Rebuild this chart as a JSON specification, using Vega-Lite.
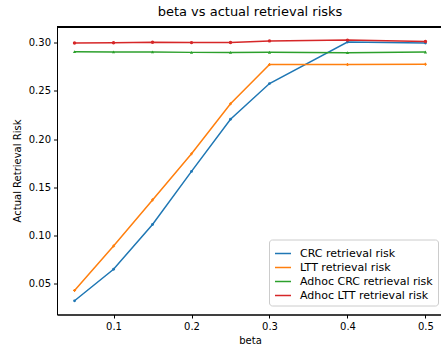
{
  "$schema": "https://vega.github.io/schema/vega-lite/v6.json",
  "autosize": {"type": "none"},
  "padding": {"left": 57, "top": 26.5, "right": 0, "bottom": 38},
  "width": 386,
  "height": 288,
  "view": {"stroke": "#000000", "strokeWidth": 1},
  "title": {"text": "beta vs actual retrieval risks", "fontSize": 13, "fontWeight": "normal", "font": "DejaVu Sans", "color": "#000000", "offset": 7},
  "config": {
    "font": "DejaVu Sans",
    "axis": {"grid": false, "domainColor": "#000000", "tickColor": "#000000", "tickSize": 3.5, "labelFontSize": 10, "labelColor": "#000000", "titleFontSize": 10, "titleFontWeight": "normal", "titleColor": "#000000", "labelPadding": 3},
    "legend": {"strokeWidth": 1}
  },
  "data": {"values": [
    {"beta": 0.05, "series": "CRC retrieval risk", "risk": 0.0325},
    {"beta": 0.10, "series": "CRC retrieval risk", "risk": 0.0652},
    {"beta": 0.15, "series": "CRC retrieval risk", "risk": 0.1115},
    {"beta": 0.20, "series": "CRC retrieval risk", "risk": 0.1665},
    {"beta": 0.25, "series": "CRC retrieval risk", "risk": 0.2205},
    {"beta": 0.30, "series": "CRC retrieval risk", "risk": 0.2575},
    {"beta": 0.40, "series": "CRC retrieval risk", "risk": 0.3005},
    {"beta": 0.50, "series": "CRC retrieval risk", "risk": 0.2995},
    {"beta": 0.05, "series": "LTT retrieval risk", "risk": 0.0432},
    {"beta": 0.10, "series": "LTT retrieval risk", "risk": 0.0892},
    {"beta": 0.15, "series": "LTT retrieval risk", "risk": 0.137},
    {"beta": 0.20, "series": "LTT retrieval risk", "risk": 0.1848},
    {"beta": 0.25, "series": "LTT retrieval risk", "risk": 0.2365},
    {"beta": 0.30, "series": "LTT retrieval risk", "risk": 0.2772},
    {"beta": 0.40, "series": "LTT retrieval risk", "risk": 0.2772},
    {"beta": 0.50, "series": "LTT retrieval risk", "risk": 0.2775},
    {"beta": 0.05, "series": "Adhoc CRC retrieval risk", "risk": 0.2905},
    {"beta": 0.10, "series": "Adhoc CRC retrieval risk", "risk": 0.2903},
    {"beta": 0.15, "series": "Adhoc CRC retrieval risk", "risk": 0.2903},
    {"beta": 0.20, "series": "Adhoc CRC retrieval risk", "risk": 0.2898},
    {"beta": 0.25, "series": "Adhoc CRC retrieval risk", "risk": 0.2898},
    {"beta": 0.30, "series": "Adhoc CRC retrieval risk", "risk": 0.2899},
    {"beta": 0.40, "series": "Adhoc CRC retrieval risk", "risk": 0.2895},
    {"beta": 0.50, "series": "Adhoc CRC retrieval risk", "risk": 0.2902},
    {"beta": 0.05, "series": "Adhoc LTT retrieval risk", "risk": 0.2995},
    {"beta": 0.10, "series": "Adhoc LTT retrieval risk", "risk": 0.2998},
    {"beta": 0.15, "series": "Adhoc LTT retrieval risk", "risk": 0.3003},
    {"beta": 0.20, "series": "Adhoc LTT retrieval risk", "risk": 0.2999},
    {"beta": 0.25, "series": "Adhoc LTT retrieval risk", "risk": 0.3001},
    {"beta": 0.30, "series": "Adhoc LTT retrieval risk", "risk": 0.3017},
    {"beta": 0.40, "series": "Adhoc LTT retrieval risk", "risk": 0.3025},
    {"beta": 0.50, "series": "Adhoc LTT retrieval risk", "risk": 0.3010}
  ]},
  "encoding": {
    "y": {"field": "risk", "type": "quantitative", "scale": {"domain": [0.0183, 0.3166], "nice": false, "zero": false},
          "axis": {"values": [0.05, 0.10, 0.15, 0.20, 0.25, 0.30], "format": ".2f", "title": "Actual Retrieval Risk", "titlePadding": 6}}
  },
  "resolve": {"scale": {"color": "independent"}, "legend": {"color": "independent"}},
  "layer": [
    {"mark": {"type": "rule", "color": "#000000", "strokeWidth": 1},
     "encoding": {"y": {"datum": 0.3163}}},
    {"mark": {"type": "line", "strokeWidth": 1.5, "clip": true},
     "encoding": {
       "x": {"field": "beta", "type": "quantitative", "scale": {"domain": [0.0275, 0.5225], "nice": false, "zero": false},
             "axis": {"values": [0.1, 0.2, 0.3, 0.4, 0.5], "format": ".1f", "title": "beta", "titlePadding": 4}},
       "color": {"field": "series", "type": "nominal",
                 "scale": {"domain": ["CRC retrieval risk", "LTT retrieval risk", "Adhoc CRC retrieval risk", "Adhoc LTT retrieval risk"],
                           "range": ["#1f77b4", "#ff7f0e", "#2ca02c", "#d62728"]},
                 "legend": {"title": null, "orient": "none", "legendX": 212, "legendY": 213, "symbolType": "stroke", "symbolSize": 256, "symbolStrokeWidth": 1.5,
                            "labelFontSize": 11, "labelColor": "#000000", "labelOffset": 8, "rowPadding": 0, "padding": 5,
                            "fillColor": "rgba(255,255,255,0.8)", "strokeColor": "#cccccc", "cornerRadius": 3}}
     }},
    {"mark": {"type": "point", "filled": true, "clip": true, "opacity": 1},
     "encoding": {
       "x": {"field": "beta", "type": "quantitative"},
       "color": {"field": "series", "type": "nominal", "legend": null,
                 "scale": {"domain": ["CRC retrieval risk", "LTT retrieval risk", "Adhoc CRC retrieval risk", "Adhoc LTT retrieval risk"],
                           "range": ["#1f77b4", "#ff7f0e", "#2ca02c", "#d62728"]}},
       "shape": {"field": "series", "type": "nominal", "legend": null,
                 "scale": {"domain": ["CRC retrieval risk", "LTT retrieval risk", "Adhoc CRC retrieval risk", "Adhoc LTT retrieval risk"],
                           "range": ["circle", "cross", "triangle-up", "circle"]}},
       "size": {"field": "series", "type": "nominal", "legend": null,
                "scale": {"domain": ["CRC retrieval risk", "LTT retrieval risk", "Adhoc CRC retrieval risk", "Adhoc LTT retrieval risk"],
                          "range": [8, 12, 18, 22]}}
     }}
  ]
}
